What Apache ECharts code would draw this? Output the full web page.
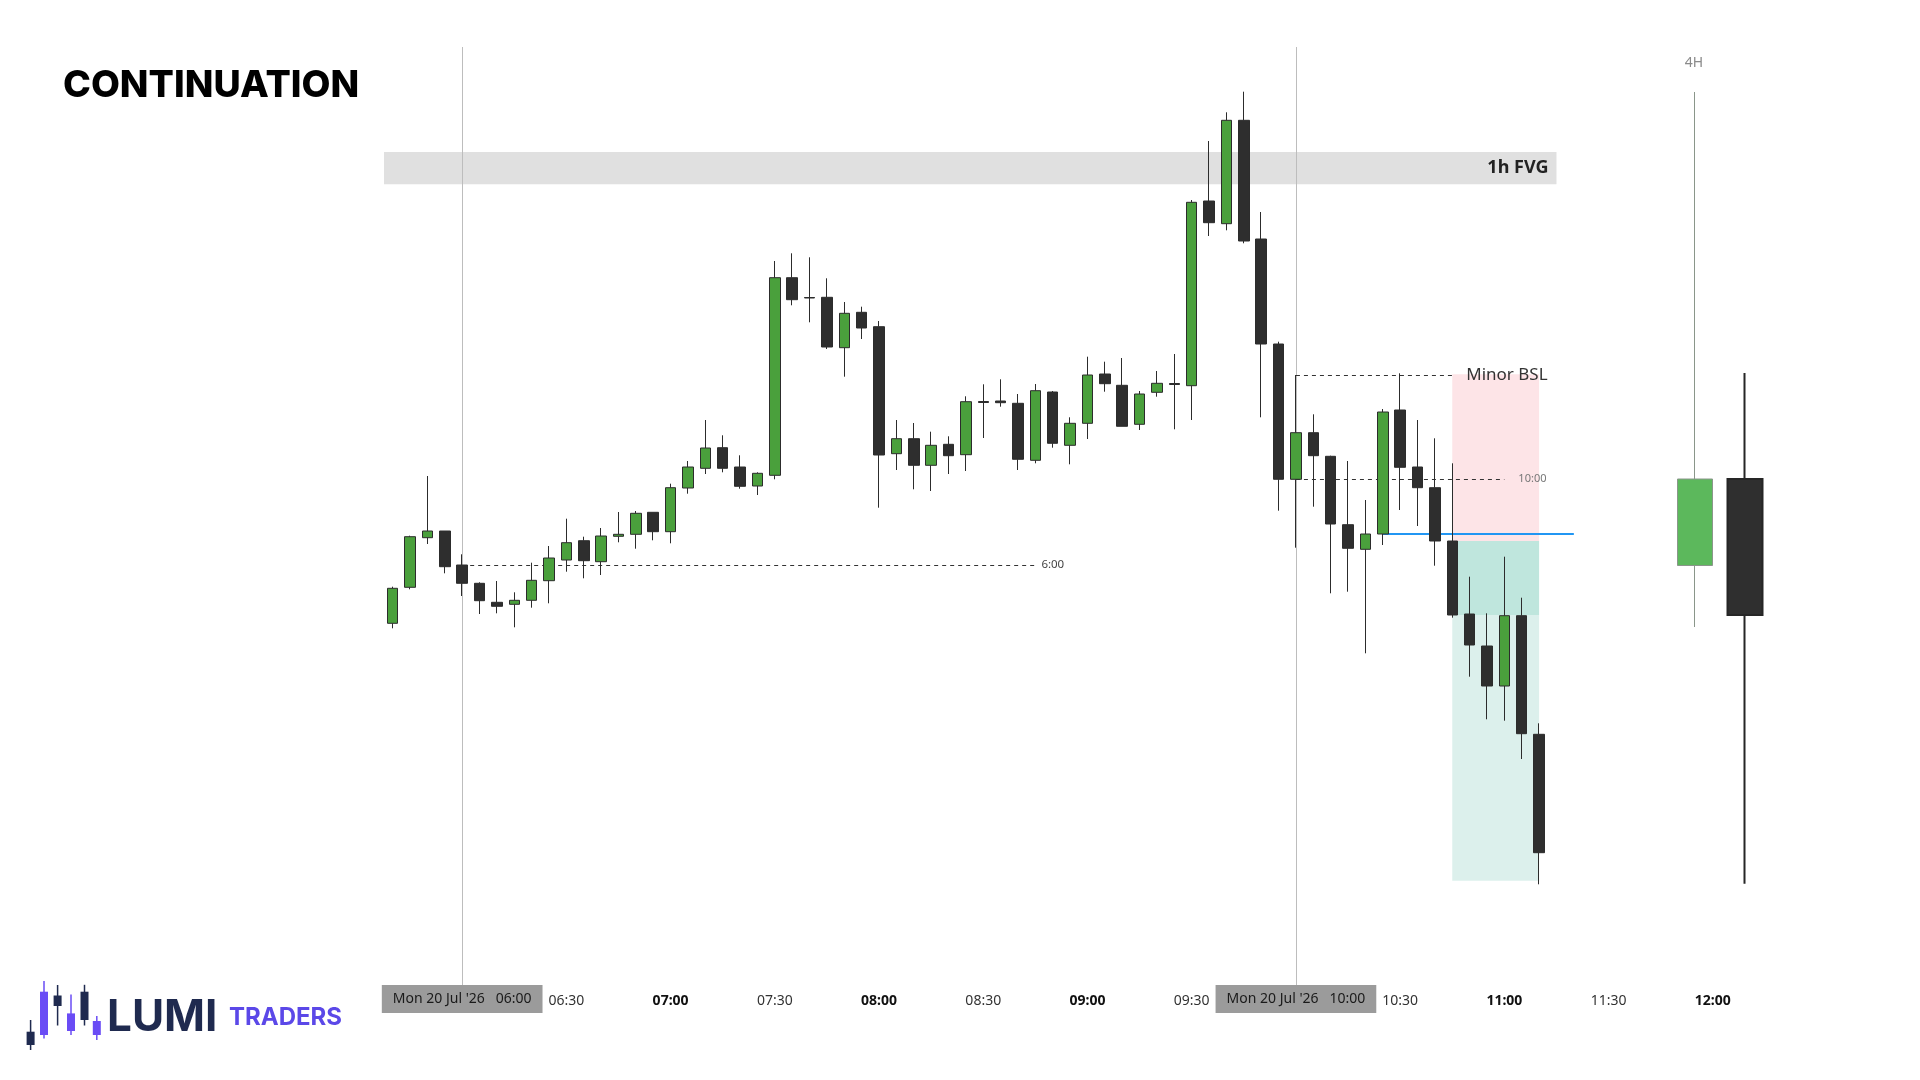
<!DOCTYPE html>
<html>
<head>
<meta charset="UTF-8">
<title>Continuation</title>
<script src="https://cdn.jsdelivr.net/npm/echarts@6/dist/echarts.min.js"></script>
<style>
  html, body { margin: 0; background: #fff; }
  #main { width: 1920px; height: 1080px; }
</style>
</head>
<body>
<div id="main"></div>
<script>
// 5 minute slots, 05:40 .. 12:15
var times = [
  '05:40','05:45','05:50','05:55','06:00','06:05','06:10','06:15','06:20','06:25','06:30','06:35',
  '06:40','06:45','06:50','06:55','07:00','07:05','07:10','07:15','07:20','07:25','07:30','07:35',
  '07:40','07:45','07:50','07:55','08:00','08:05','08:10','08:15','08:20','08:25','08:30','08:35',
  '08:40','08:45','08:50','08:55','09:00','09:05','09:10','09:15','09:20','09:25','09:30','09:35',
  '09:40','09:45','09:50','09:55','10:00','10:05','10:10','10:15','10:20','10:25','10:30','10:35',
  '10:40','10:45','10:50','10:55','11:00','11:05','11:10','11:15','11:20','11:25','11:30','11:35',
  '11:40','11:45','11:50','11:55','12:00','12:05','12:10','12:15'
];

var opens = [376.7, 412.7, 462.3, 469, 435, 416.7, 397.7, 395.7, 399.7, 419.3,
  440, 459.3, 438.3, 463.7, 465.7, 487.7, 468.3, 512, 531.7, 552.3,
  533, 514, 524.7, 722.3, 702.5, 702.7, 652.3, 687.7, 673.3, 546.3,
  561.3, 534.7, 555.7, 545.3, 598.5, 599, 596.7, 539.7, 608, 554.7,
  576.7, 626, 614.7, 575.7, 607.7, 616.5, 614.3, 799, 776.3, 879.7,
  761, 656, 520.7, 567.3, 543.7, 475.3, 450.7, 466, 590, 533,
  512.3, 459, 386, 354, 314, 384.3, 265.7];
var closes = [411.7, 463.3, 469, 433.3, 416.7, 399.3, 393.7, 399.7, 419.7, 442,
  457.3, 439.3, 464, 465.7, 486.7, 468.3, 512.3, 533, 552, 531.7,
  513.7, 526.7, 722.3, 700.3, 702, 653, 686.7, 672, 545, 561.3,
  534.7, 554.7, 544.3, 598.3, 597.5, 597.3, 540.7, 609.3, 556.7, 576.7,
  625, 616.3, 573.7, 606, 616.7, 615.5, 797.7, 777.3, 879.7, 759,
  656, 520.7, 567.3, 544.3, 476, 451.7, 466, 588, 532.7, 512.3,
  459, 385, 355, 314, 384.3, 266.3, 147.3];
var lows = [371.7, 410.7, 456, 426.7, 404, 386, 386.7, 372.7, 392.3, 396.7,
  428.3, 421.7, 425, 457.7, 451.3, 459.7, 456.7, 506.3, 526, 527.7,
  511.3, 505, 520.7, 694.7, 677.7, 651, 623.3, 661, 492.3, 530,
  510.7, 509, 526, 529, 562, 593.3, 530, 536.7, 552.3, 535.7,
  561, 608.3, 573.7, 570, 603.3, 570.7, 580, 764, 769.7, 756.7,
  582.7, 489.3, 452.3, 493.3, 406.7, 408.3, 346.7, 455, 490, 474,
  434.3, 382.3, 323.3, 280.7, 279.3, 241, 115.7];
var highs = [413.3, 464.3, 524, 469, 445.7, 417.7, 419, 407.7, 437.3, 454,
  481.3, 463.3, 472, 488, 489, 487.7, 516.3, 539, 580, 564.7,
  544.7, 527.7, 739, 746.7, 742.7, 721.7, 698, 693.3, 679, 580,
  577, 568.3, 563.7, 603.7, 615.7, 620.7, 606, 616, 609, 582.7,
  643.3, 638.3, 642, 609, 629, 646, 800, 859, 887.7, 908.3,
  788, 658.3, 625, 585.7, 544.3, 539, 500, 591, 626.7, 580,
  561.7, 536.7, 423.3, 386.7, 443.3, 402.3, 276.7];

// 4H candles (06:00 and 10:00)
var h4Names = ['06:00 4H', '10:00 4H'];
var h4Opens = [434.5, 521];
var h4Closes = [521, 385];
var h4Lows = [373, 116.3];
var h4Highs = [908, 627];

// zones / levels
var fvgBand = [815.7, 848];
var stopBand = [459, 625.7];
var targetHit = [385, 459];
var targetBand = [119.3, 385];
var entryLevel = 466.5;

var chart = echarts.init(document.getElementById('main'));

function pos(t) { return times.indexOf(t) + 0.5; }

var open6 = opens[times.indexOf('06:00')];
var open10 = opens[times.indexOf('10:00')];
var high10 = highs[times.indexOf('10:00')];

var candles = opens.map(function (o, i) { return [o, closes[i], lows[i], highs[i]]; });
var h4Data = h4Opens.map(function (o, i) {
  var item = { value: [o, h4Closes[i], h4Lows[i], h4Highs[i]] };
  if (i === 1) item.itemStyle = { borderWidth: 2 };
  return item;
});

var dashed = { color: '#333', width: 1, type: [4, 4] };

var logoNavy = '#1f2a4f', logoPurple = '#6a4cf5';
var logoBars = [
  [30.6, 1031.7, 1045, 1020, 1050, logoNavy],
  [44, 991.7, 1035, 981, 1038.6, logoPurple],
  [57.6, 995.5, 1006, 985, 1025.5, logoNavy],
  [71, 1013.4, 1031, 994.5, 1035, logoPurple],
  [84.5, 991.7, 1020, 984.8, 1025.5, logoNavy],
  [96.8, 1021, 1035, 1016, 1040, logoPurple]
];
var graphics = [
  { type: 'text', x: 63, y: 86, style: { text: 'CONTINUATION', fill: '#000', fontFamily: 'Inter', fontWeight: 800, fontSize: 37.5, verticalAlign: 'middle' } },
  { type: 'text', x: 1694, y: 63, style: { text: '4H', fill: '#8a8a8a', fontFamily: 'Noto Sans', fontSize: 14, align: 'center', verticalAlign: 'middle' } },
  { type: 'text', x: 107, y: 1018, style: { text: 'LUMI', fill: logoNavy, fontFamily: 'Inter', fontWeight: 700, fontSize: 44, verticalAlign: 'middle' } },
  { type: 'text', x: 229, y: 1018, style: { text: 'TRADERS', fill: '#5b48e8', fontFamily: 'Inter', fontWeight: 700, fontSize: 24, verticalAlign: 'middle' } }
];
logoBars.forEach(function (b) {
  graphics.push({ type: 'line', shape: { x1: b[0], y1: b[3], x2: b[0], y2: b[4] }, style: { stroke: b[5], lineWidth: 1.5 } });
  graphics.push({ type: 'rect', shape: { x: b[0] - 4, y: b[1], width: 8, height: b[2] - b[1] }, style: { fill: b[5] } });
});

var option = {
  animation: false,
  backgroundColor: '#fff',
  textStyle: { fontFamily: 'Noto Sans' },
  graphic: graphics,
  grid: [
    { left: 384, top: 47, width: 1389.6, height: 938 },
    { left: 1670, top: 47, width: 100, height: 938 }
  ],
  xAxis: [
    {
      type: 'category', gridIndex: 0, data: times, boundaryGap: true,
      axisLine: { show: false }, axisTick: { show: false }, splitLine: { show: false },
      axisLabel: {
        margin: 0,
        interval: function (i, v) {
          var m = v.slice(3);
          return v >= '06:00' && (m === '00' || m === '30');
        },
        formatter: function (v) {
          if (v === '06:00' || v === '10:00') return '{box|Mon 20 Jul \'26   ' + v + '}';
          if (v.slice(3) === '00') return '{b|' + v + '}';
          return '{n|' + v + '}';
        },
        rich: {
          n: { fontSize: 14, color: '#333', padding: [9, 0, 5, 0] },
          b: { fontSize: 14, fontWeight: 'bold', color: '#111', padding: [9, 0, 5, 0] },
          box: { fontSize: 14, color: '#1a1a1a', backgroundColor: '#9b9b9b', padding: [7, 11, 7, 11] }
        }
      }
    },
    { type: 'value', gridIndex: 0, min: 0, max: times.length, show: false },
    { type: 'category', gridIndex: 1, data: h4Names, show: false }
  ],
  yAxis: [
    { type: 'value', gridIndex: 0, min: 15, max: 953, show: false },
    { type: 'value', gridIndex: 1, min: 15, max: 953, show: false }
  ],
  series: [
    {
      name: 'zones', type: 'line', xAxisIndex: 1, yAxisIndex: 0, data: [], z: 1, silent: true,
      markArea: {
        silent: true,
        label: { show: false },
        data: [
          [{ coord: [0, fvgBand[0]], itemStyle: { color: '#e0e0e0', opacity: 1 },
             label: { show: true, position: 'insideRight', distance: 8, formatter: '1h FVG', fontSize: 18, fontWeight: 'bold', color: '#222' } },
           { coord: [pos('11:15'), fvgBand[1]] }],
          [{ coord: [pos('10:45'), stopBand[0]], itemStyle: { color: '#fde4e7', opacity: 1 } },
           { coord: [pos('11:10'), stopBand[1]] }],
          [{ coord: [pos('10:45'), targetHit[0]], itemStyle: { color: '#bfe6dd', opacity: 1 } },
           { coord: [pos('11:10'), targetHit[1]] }],
          [{ coord: [pos('10:45'), targetBand[0]], itemStyle: { color: '#dcf0ec', opacity: 1 } },
           { coord: [pos('11:10'), targetBand[1]] }]
        ]
      }
    },
    {
      name: 'levels', type: 'line', xAxisIndex: 1, yAxisIndex: 0, data: [], z: 2, silent: true,
      markLine: {
        silent: true,
        symbol: ['none', 'none'],
        label: { show: false },
        data: [
          { xAxis: pos('06:00'), lineStyle: { color: '#bdbdbd', width: 1, type: 'solid' } },
          { xAxis: pos('10:00'), lineStyle: { color: '#bdbdbd', width: 1, type: 'solid' } },
          [{ coord: [pos('06:00'), open6], lineStyle: dashed,
             label: { show: true, position: 'end', distance: 6, formatter: '6:00', fontSize: 11.5, color: '#444' } },
           { coord: [pos('08:45'), open6] }],
          [{ coord: [pos('10:00'), open10], lineStyle: dashed,
             label: { show: true, position: 'end', distance: 14, formatter: '10:00', fontSize: 11, color: '#777' } },
           { coord: [pos('11:00'), open10] }],
          [{ coord: [pos('10:00'), high10], lineStyle: dashed,
             label: { show: true, position: 'end', distance: 14, formatter: 'Minor BSL', fontSize: 17, color: '#333' } },
           { coord: [pos('10:45'), high10] }],
          [{ coord: [pos('10:25'), entryLevel], lineStyle: { color: '#2196f3', width: 2, type: 'solid' } },
           { coord: [pos('11:20'), entryLevel] }]
        ]
      }
    },
    {
      name: '5m', type: 'candlestick', xAxisIndex: 0, yAxisIndex: 0, z: 5,
      barWidth: 11,
      data: candles,
      itemStyle: { color: '#4aa03c', color0: '#2e2e2e', borderColor: '#2c2c2c', borderColor0: '#2c2c2c', borderWidth: 1 }
    },
    {
      name: '4H', type: 'candlestick', xAxisIndex: 2, yAxisIndex: 1, z: 5,
      barWidth: 35,
      data: h4Data,
      itemStyle: { color: '#5cb85c', color0: '#2f2f2f', borderColor: '#8a968a', borderColor0: '#262626', borderWidth: 1 }
    }
  ]
};

chart.setOption(option);
</script>
</body>
</html>
